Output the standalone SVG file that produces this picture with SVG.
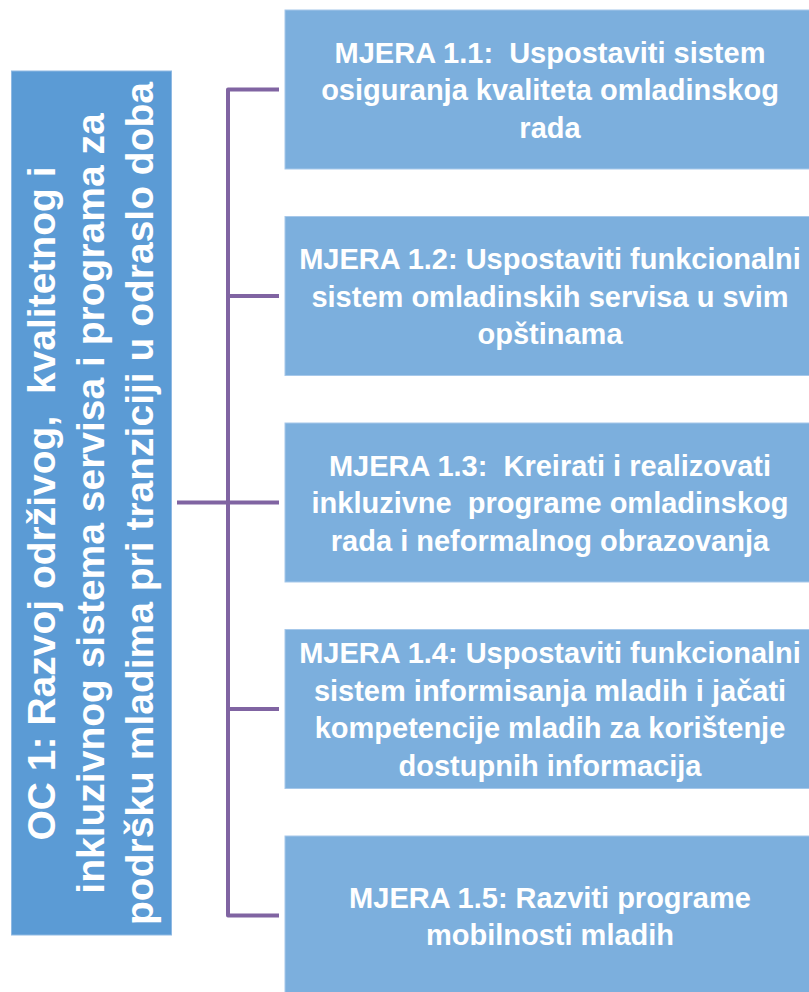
<svg xmlns="http://www.w3.org/2000/svg" width="809" height="992" viewBox="0 0 809 992">
<style>
.main{fill:#5b9bd5;stroke:#8fb9e3;stroke-width:1}
.box{fill:#7cafdd;stroke:#a6c8ea;stroke-width:1}
.lt{font-family:"Liberation Sans",Arial,sans-serif;font-weight:bold;fill:#ffffff;font-size:39px;text-anchor:middle;white-space:pre}
.bt{font-family:"Liberation Sans",Arial,sans-serif;font-weight:bold;fill:#ffffff;font-size:29px;text-anchor:middle;white-space:pre}
.conn{fill:none;stroke:#8064a2;stroke-width:4;stroke-linejoin:round;stroke-linecap:butt}
</style>
<rect width="809" height="992" fill="#ffffff"/>
<g id="connectors">
<path class="conn" d="M279,89.5 H228 V915.5 H279"/>
<path class="conn" d="M228,296 H279"/>
<path class="conn" d="M177,502.5 H279"/>
<path class="conn" d="M228,709 H279"/>
</g>
<g id="oc1">
<rect class="main" x="11.5" y="71" width="160" height="864"/>
<g transform="translate(0,503.5) rotate(-90)">
<text class="lt" xml:space="preserve" x="0" y="55">OC 1: Razvoj održivog,  kvalitetnog i</text>
<text class="lt" x="0" y="104">inkluzivnog sistema servisa i programa za</text>
<text class="lt" x="0" y="153">podršku mladima pri tranziciji u odraslo doba</text>
</g>
</g>
<g id="mjera11">
<rect class="box" x="285" y="10" width="530" height="159"/>
<text class="bt" xml:space="preserve" x="550" y="62.5">MJERA 1.1:  Uspostaviti sistem</text>
<text class="bt" x="550" y="100">osiguranja kvaliteta omladinskog</text>
<text class="bt" x="550" y="137.5">rada</text>
</g>
<g id="mjera12">
<rect class="box" x="285" y="216.5" width="530" height="159"/>
<text class="bt" x="550" y="269">MJERA 1.2: Uspostaviti funkcionalni</text>
<text class="bt" x="550" y="306.5">sistem omladinskih servisa u svim</text>
<text class="bt" x="550" y="344">opštinama</text>
</g>
<g id="mjera13">
<rect class="box" x="285" y="423" width="530" height="159"/>
<text class="bt" xml:space="preserve" x="550" y="475.5">MJERA 1.3:  Kreirati i realizovati</text>
<text class="bt" xml:space="preserve" x="550" y="513">inkluzivne  programe omladinskog</text>
<text class="bt" x="550" y="550.5">rada i neformalnog obrazovanja</text>
</g>
<g id="mjera14">
<rect class="box" x="285" y="629.5" width="530" height="159"/>
<text class="bt" x="550" y="663">MJERA 1.4: Uspostaviti funkcionalni</text>
<text class="bt" x="550" y="700.5">sistem informisanja mladih i jačati</text>
<text class="bt" x="550" y="738">kompetencije mladih za korištenje</text>
<text class="bt" x="550" y="775.5">dostupnih informacija</text>
</g>
<g id="mjera15">
<rect class="box" x="285" y="836" width="530" height="159"/>
<text class="bt" x="550" y="907.5">MJERA 1.5: Razviti programe</text>
<text class="bt" x="550" y="945">mobilnosti mladih</text>
</g>
</svg>
